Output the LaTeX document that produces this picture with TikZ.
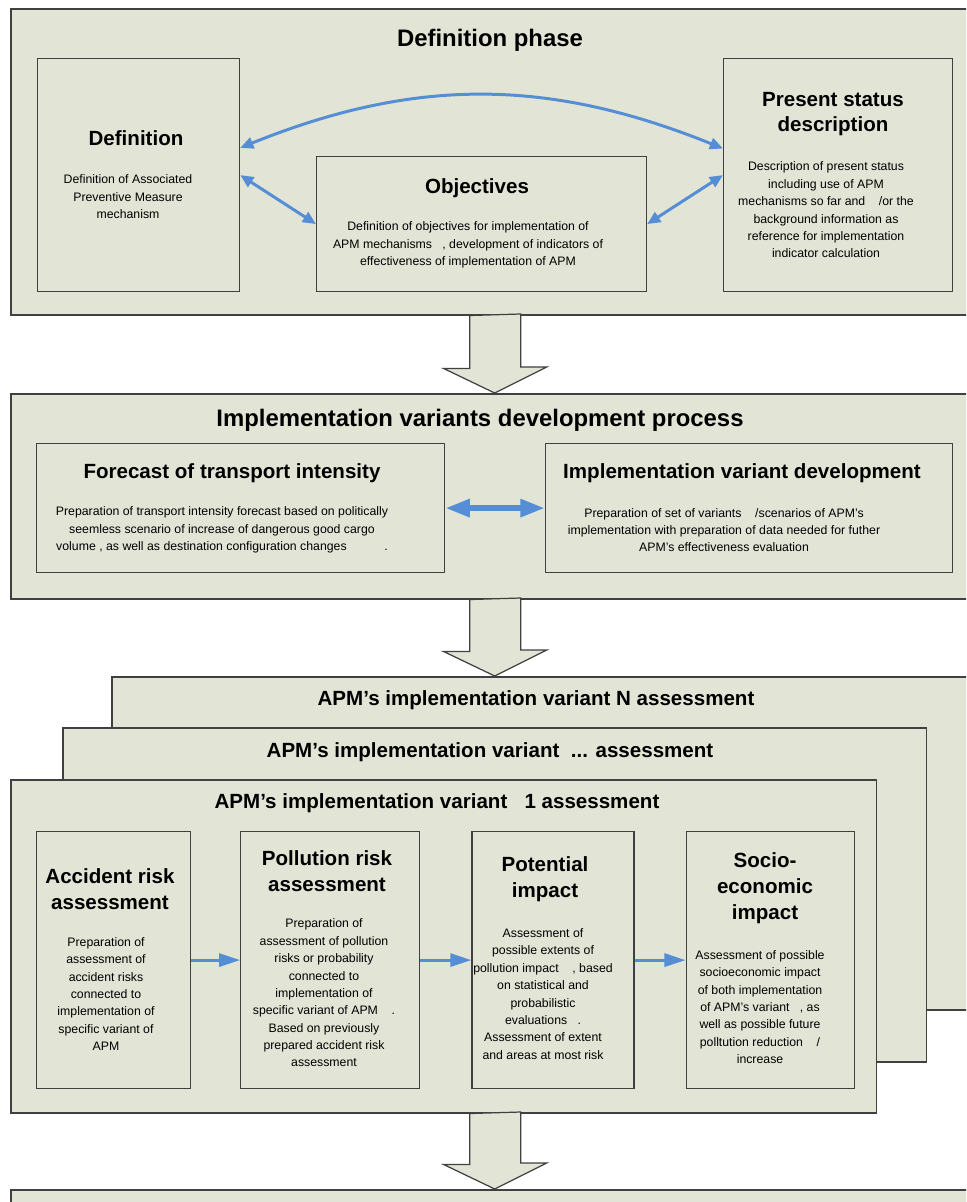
\documentclass[tikz,border=0pt]{standalone}
\usepackage{fontspec}
\setmainfont{Liberation Sans}
\usetikzlibrary{positioning, arrows.meta, calc}
\definecolor{sagefill}{RGB}{226,229,214}
\definecolor{linkblue}{RGB}{85,142,213}

\begin{document}
\begin{tikzpicture}[
  x=0.02cm, y=-0.02cm,
  panel/.style={draw=black!75, line width=0.9pt, fill=sagefill, anchor=north west, inner sep=0pt},
  stage/.style={draw=black!75, line width=0.7pt, fill=sagefill, anchor=north west, inner sep=0pt, minimum height=5.14cm},
  paneltitle/.style={font=\bfseries\fontsize{13.6}{16}\selectfont, inner sep=0pt},
  runtitle/.style={font=\bfseries\fontsize{11.7}{14}\selectfont, inner sep=0pt},
  stagetitle/.style={font=\bfseries\fontsize{11.7}{14.7}\selectfont, align=center, inner sep=0pt},
  stagetext/.style={font=\fontsize{7}{9.9}\selectfont, align=center, inner sep=0pt},
  link/.style={draw=linkblue, line width=1.7pt, {Triangle[length=7.5pt,width=6.5pt]}-{Triangle[length=7.5pt,width=6.5pt]}},
  widelink/.style={draw=linkblue, line width=3.4pt, {Triangle[length=14pt,width=9.6pt]}-{Triangle[length=14pt,width=9.6pt]}},
  nextlink/.style={draw=linkblue, line width=1.7pt, -{Triangle[length=12pt,width=7.4pt]}},
  blockarrow/.style={draw=black!75, line width=0.7pt, fill=sagefill}
]
\useasboundingbox (0,0) rectangle (966,1202);
\clip (0,0) rectangle (966,1202);

% Definition phase
\node[panel, minimum width=19.36cm, minimum height=6.12cm] (defphase) at (10,8) {};
\node[paneltitle] (defphasetitle) at (490,40) {Definition phase};
\node[stage, minimum width=4.04cm, minimum height=4.66cm] (defbox) at (37,58) {};
\node[stage, minimum width=6.6cm, minimum height=2.7cm] (objbox) at (316,156) {};
\node[stage, minimum width=4.58cm, minimum height=4.66cm] (presbox) at (723,58) {};

\node[stagetitle] (deftitle) at (136,138) {Definition};
\node[stagetext] (deftext) at (128,197) {Definition of Associated\\Preventive Measure\\mechanism};
\node[stagetitle] (objtitle) at (477,188) {Objectives};
\node[stagetext] (objtext) at (468,245) {Definition of objectives for implementation of\\APM mechanisms~~~, development of indicators of\\effectiveness of implementation of APM};
\node[stagetitle] (prestitle) at (833,114) {Present status\\description};
\node[stagetext] (prestext) at (826,210) {Description of present status\\including use of APM\\mechanisms so far and~~~~/or the\\background information as\\reference for implementation\\indicator calculation};

\draw[link] (defbox.15) to[out=22, in=158] (presbox.167);
\draw[link] (defbox.east) -- (objbox.west);
\draw[link] (objbox.east) -- (presbox.west);

% Implementation variants
\node[panel, minimum width=19.36cm, minimum height=4.1cm] (implproc) at (10,393) {};
\node[paneltitle] (implproctitle) at (480,420) {Implementation variants development process};
\node[stage, minimum width=8.16cm, minimum height=2.58cm] (forebox) at (36,443) {};
\node[stage, minimum width=8.14cm, minimum height=2.58cm] (varbox) at (545,443) {};

\node[stagetitle] (foretitle) at (232,473) {Forecast of transport intensity};
\node[stagetext] (foretext) at (222,530) {Preparation of transport intensity forecast based on politically\\seemless scenario of increase of dangerous good cargo\\volume , as well as destination configuration changes~~~~~~~~~~~.};
\node[stagetitle] (vartitle) at (742,473) {Implementation variant development};
\node[stagetext] (vartext) at (724,530) {Preparation of set of variants~~~~/scenarios of APM's\\implementation with preparation of data needed for futher\\APM's effectiveness evaluation};

\draw[widelink] (forebox) -- (varbox);

% Variant assessment stack
\node[panel, minimum width=17.8cm, minimum height=6.66cm] (varN) at (111,676) {};
\node[runtitle] (varNtitle) at (536,700) {APM's implementation variant N assessment};
\node[panel, minimum width=17.28cm, minimum height=6.68cm] (vardots) at (62,727) {};
\node[runtitle] (vardotstitle) at (490,752) {APM's implementation variant~~... assessment};
\node[panel, minimum width=17.32cm, minimum height=6.66cm] (var1) at (10,779) {};
\node[runtitle] (var1title) at (437,803) {APM's implementation variant~~~1 assessment};

\node[stage, minimum width=3.08cm] (accbox) at (36,831) {};
\node[stage, minimum width=3.58cm, right=0.98cm of accbox] (polbox) {};
\node[stage, minimum width=3.24cm, right=1.02cm of polbox] (potbox) {};
\node[stage, minimum width=3.36cm, right=1.02cm of potbox] (socbox) {};

\node[stagetitle] (acctitle) at (110,889) {Accident risk\\assessment};
\node[stagetext] (acctext) at (106,994) {Preparation of\\assessment of\\accident risks\\connected to\\implementation of\\specific variant of\\APM};
\node[stagetitle] (poltitle) at (327,871) {Pollution risk\\assessment};
\node[stagetext] (poltext) at (324,993) {Preparation of\\assessment of pollution\\risks or probability\\connected to\\implementation of\\specific variant of APM~~~~.\\Based on previously\\prepared accident risk\\assessment};
\node[stagetitle] (pottitle) at (545,879) {Potential\\impact};
\node[stagetext] (pottext) at (543,994) {Assessment of\\possible extents of\\pollution impact~~~~, based\\on statistical and\\probabilistic\\evaluations~~~.\\Assessment of extent\\and areas at most risk};
\node[stagetitle] (soctitle) at (765,888) {Socio-\\economic\\impact};
\node[stagetext] (soctext) at (760,1007) {Assessment of possible\\socioeconomic impact\\of both implementation\\of APM's variant~~~, as\\well as possible future\\polltution reduction~~~~/\\increase};

\draw[nextlink] (accbox) -- (polbox);
\draw[nextlink] (polbox) -- (potbox);
\draw[nextlink] (potbox) -- (socbox);

% Next phase (cut off)
\node[panel, minimum width=19.36cm, minimum height=2cm] (nextphase) at (10,1189) {};

% Block arrows between phases
\coordinate (tip2) at (implproc.south |- varN.north);
\coordinate (root3) at (nextphase.north |- var1.south);
\draw[blockarrow] ($(defphase.south)+(-25,0)$) -- ++(0,53) -- ++(-26,0) -- (implproc.north) -- ++(52,-26) -- ++(-26,0) -- ++(0,-53) -- cycle;
\draw[blockarrow] ($(implproc.south)+(-25,0)$) -- ++(0,52) -- ++(-26,0) -- (tip2) -- ++(52,-26) -- ++(-26,0) -- ++(0,-52) -- cycle;
\draw[blockarrow] ($(root3)+(-25,0)$) -- ++(0,51) -- ++(-26,0) -- (nextphase.north) -- ++(52,-26) -- ++(-26,0) -- ++(0,-51) -- cycle;

\end{tikzpicture}
\end{document}
